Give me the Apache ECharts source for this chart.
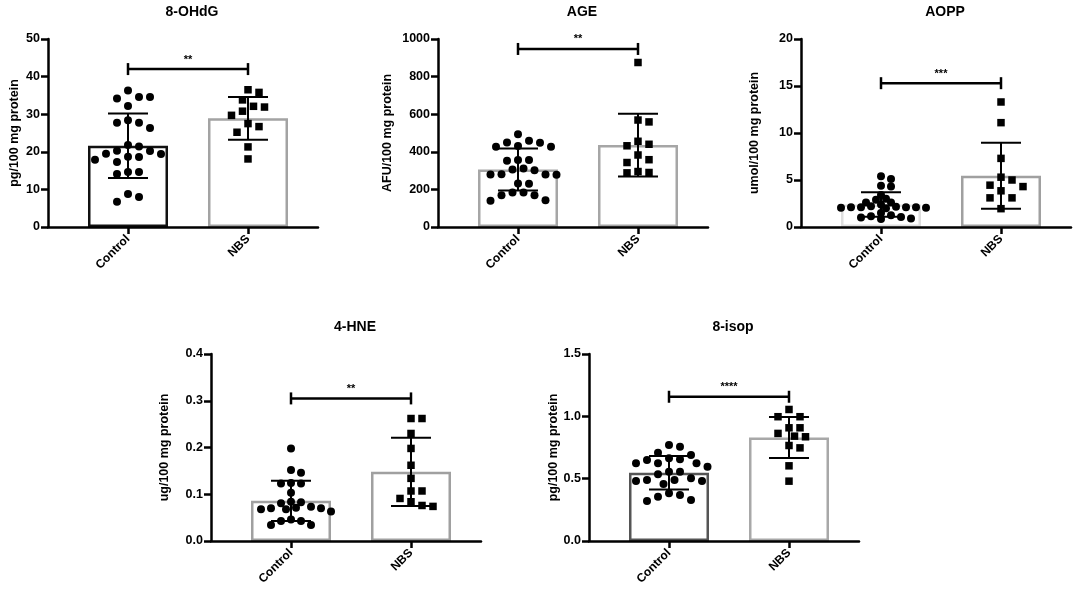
<!DOCTYPE html>
<html>
<head>
	<meta charset="utf-8">
	<script src="https://cdn.jsdelivr.net/npm/echarts@6/dist/echarts.min.js"></script>
	<title>Oxidative stress markers</title>
	<style>
		body { margin: 0; background: #fff; }
	</style>
</head>
<body>
	<div id="main" style="width: 1084px;height:594px;"></div>

	<script type="text/javascript">
	    // group names and per-panel texts
	    var categories = ['Control', 'NBS'];
	    var titles = ['8-OHdG', 'AGE', 'AOPP', '4-HNE', '8-isop'];
	    var yNames = ['pg/100 mg protein', 'AFU/100 mg protein', 'umol/100 mg protein', 'ug/100 mg protein', 'pg/100 mg protein'];
	    var yMax = [50, 1000, 20, 0.4, 1.5];
	    var yStep = [10, 200, 5, 0.1, 0.5];
	    var stars = ['**', '**', '***', '**', '****'];
	    var bracketY = [42, 947, 15.3, 0.305, 1.157];

	    // individual points
	    var ohdgControl = [36.3, 34.6, 34.2, 34.6, 32.2, 28.4, 27.7, 27.7, 26.3, 21.8, 21.4, 20.3, 20.2, 19.5, 19.4, 18.7, 18.6, 17.9, 17.3, 14.6, 14.6, 14.1, 8.8, 8.0, 6.7];
	    var ohdgNbs = [36.5, 35.8, 33.8, 32.1, 31.9, 30.8, 29.7, 27.5, 26.7, 25.2, 21.3, 18.1];
	    var ageControl = [493, 459, 450, 448, 431, 427, 427, 356, 356, 352, 311, 306, 302, 281, 279, 279, 278, 231, 230, 183, 183, 169, 169, 142, 139];
	    var ageNbs = [875, 569, 559, 456, 440, 432, 383, 358, 343, 295, 290, 288];
	    var aoppControl = [5.4, 5.1, 4.4, 4.3, 3.4, 3.0, 2.9, 2.6, 2.6, 2.4, 2.2, 2.15, 2.1, 2.1, 2.1, 2.1, 2.05, 2.05, 2.0, 1.5, 1.25, 1.15, 1.07, 1.0, 0.9, 0.85];
	    var aoppNbs = [13.3, 11.1, 7.3, 5.3, 5.0, 4.45, 4.3, 3.85, 3.1, 3.1, 1.95];
	    var hneControl = [0.198, 0.152, 0.146, 0.124, 0.123, 0.123, 0.103, 0.084, 0.083, 0.081, 0.073, 0.071, 0.070, 0.070, 0.068, 0.068, 0.063, 0.046, 0.043, 0.043, 0.034, 0.034];
	    var hneNbs = [0.262, 0.262, 0.230, 0.198, 0.162, 0.134, 0.107, 0.107, 0.091, 0.084, 0.076, 0.074];
	    var isopControl = [0.770, 0.756, 0.708, 0.690, 0.663, 0.655, 0.650, 0.623, 0.623, 0.623, 0.596, 0.556, 0.556, 0.535, 0.503, 0.489, 0.489, 0.481, 0.481, 0.457, 0.383, 0.369, 0.355, 0.329, 0.321];
	    var isopNbs = [1.055, 0.997, 0.997, 0.908, 0.908, 0.863, 0.841, 0.836, 0.766, 0.747, 0.603, 0.48];

	    // mean and SD per panel: [Control, NBS]
	    var means = [[21.6, 28.9], [306, 436], [2.4, 5.45], [0.086, 0.148], [0.548, 0.83]];
	    var sds = [[8.6, 5.7], [112, 167], [1.3, 3.5], [0.043, 0.073], [0.134, 0.165]];

	    var points = [
	        [ohdgControl, ohdgNbs],
	        [ageControl, ageNbs],
	        [aoppControl, aoppNbs],
	        [hneControl, hneNbs],
	        [isopControl, isopNbs]
	    ];

	    // layout of the five panels (pixels); sw = [step, min distance] of the point swarm per group
	    var layout = [
	        { left: 48, top: 39, h: 188, gap: 27, sw: [[5.5, 10.5], [5.5, 10.5]], edge: ['#111111', '#a3a3a3'] },
	        { left: 438, top: 39, h: 188, gap: 44, sw: [[5.5, 10], [5.5, 10]], edge: ['#a6a6a6', '#a6a6a6'] },
	        { left: 801, top: 39, h: 188, gap: 40, sw: [[5, 6], [5.5, 10.5]], edge: ['#dedede', '#a0a0a0'] },
	        { left: 211, top: 354, h: 187, gap: 40, sw: [[5, 7.5], [5.5, 10]], edge: ['#a0a0a0', '#a0a0a0'] },
	        { left: 589, top: 354, h: 187, gap: 28, sw: [[5.5, 10], [5.5, 10]], edge: ['#555555', '#a8a8a8'] }
	    ];
	    var plotW = 270, unitPx = 120, xMin = -80 / 120, xMax = 190 / 120;
	    var font = 'Liberation Sans, Arial, sans-serif';

	    // simple beeswarm: spread points sideways so markers do not overlap much
	    function swarm(values, pxPerUnit, step, minD) {
	        var placed = [], offs = [];
	        values.forEach(function (v) {
	            var y = v * pxPerUnit;
	            for (var k = 0; k < 60; k++) {
	                var dx = (k % 2 === 1 ? 1 : -1) * Math.ceil(k / 2) * step;
	                var ok = placed.every(function (p) {
	                    var a = p[0] - dx, b = p[1] - y;
	                    return a * a + b * b >= minD * minD;
	                });
	                if (ok) { placed.push([dx, y]); offs.push(dx); return; }
	            }
	            offs.push(0);
	        });
	        return offs;
	    }

	    function errorBars(params, api) {
	        var x = api.value(0), m = api.value(1), s = api.value(2);
	        var t = api.coord([x, m + s]), b = api.coord([x, m - s]);
	        var w = 20, st = { stroke: '#000', lineWidth: 2 };
	        return { type: 'group', children: [
	            { type: 'line', shape: { x1: t[0], y1: t[1], x2: b[0], y2: b[1] }, style: st },
	            { type: 'line', shape: { x1: t[0] - w, y1: t[1], x2: t[0] + w, y2: t[1] }, style: st },
	            { type: 'line', shape: { x1: b[0] - w, y1: b[1], x2: b[0] + w, y2: b[1] }, style: st }
	        ] };
	    }

	    function bracket(panel) {
	        return function (params, api) {
	            var a = api.coord([api.value(0), api.value(2)]);
	            var b = api.coord([api.value(1), api.value(2)]);
	            var st = { stroke: '#000', lineWidth: 2.5 };
	            return { type: 'group', children: [
	                { type: 'line', shape: { x1: a[0], y1: a[1], x2: b[0], y2: b[1] }, style: st },
	                { type: 'line', shape: { x1: a[0], y1: a[1] - 6, x2: a[0], y2: a[1] + 6 }, style: st },
	                { type: 'line', shape: { x1: b[0], y1: b[1] - 6, x2: b[0], y2: b[1] + 6 }, style: st },
	                { type: 'text', x: (a[0] + b[0]) / 2, y: a[1] - 4, style: {
	                    text: stars[panel], fill: '#000', font: 'bold 11px ' + font,
	                    textAlign: 'center', textVerticalAlign: 'bottom' } }
	            ] };
	        };
	    }

	    var option = {
	        backgroundColor: '#fff',
	        animation: false,
	        title: [], grid: [], xAxis: [], yAxis: [], series: []
	    };

	    layout.forEach(function (L, i) {
	        var dec = yStep[i] < 1 ? 1 : 0;
	        option.title.push({
	            text: titles[i], left: L.left + 139, top: L.top - 39, textAlign: 'center',
	            textStyle: { fontFamily: font, fontWeight: 'bold', fontSize: 14, color: '#000' }
	        });
	        option.grid.push({ left: L.left, top: L.top, width: plotW, height: L.h });
	        option.xAxis.push({
	            type: 'value', gridIndex: i, min: xMin, max: xMax, z: 10,
	            splitLine: { show: false },
	            axisLine: { onZero: false, lineStyle: { color: '#000', width: 2.5 } },
	            axisTick: { customValues: [0, 1], length: 7, lineStyle: { color: '#000', width: 2.5 } },
	            axisLabel: {
	                customValues: [0, 1], rotate: 45, margin: 10,
	                fontFamily: font, fontWeight: 'bold', fontSize: 12, color: '#000',
	                formatter: function (v) { return categories[Math.round(v)]; }
	            }
	        });
	        option.yAxis.push({
	            type: 'value', gridIndex: i, min: 0, max: yMax[i], interval: yStep[i], z: 10,
	            name: yNames[i], nameLocation: 'middle', nameGap: L.gap, nameRotate: 90,
	            nameTextStyle: { fontFamily: font, fontWeight: 'bold', fontSize: 12.5, color: '#000' },
	            splitLine: { show: false },
	            axisLine: { show: true, onZero: false, lineStyle: { color: '#000', width: 2.5 } },
	            axisTick: { show: true, length: 7, lineStyle: { color: '#000', width: 2.5 } },
	            axisLabel: {
	                margin: 8, fontFamily: font, fontWeight: 'bold', fontSize: 12.5, color: '#000',
	                formatter: function (v) { return v.toFixed(dec); }
	            }
	        });

	        // bars (group means)
	        option.series.push({
	            type: 'bar', xAxisIndex: i, yAxisIndex: i, barWidth: 80, z: 1,
	            data: means[i].map(function (m, c) {
	                return { value: [c, m], itemStyle: { color: '#fff', borderColor: L.edge[c], borderWidth: 2.5 } };
	            })
	        });

	        // individual points
	        var pxPerUnit = L.h / yMax[i];
	        points[i].forEach(function (vals, c) {
	            var offs = swarm(vals, pxPerUnit, L.sw[c][0], L.sw[c][1]);
	            option.series.push({
	                type: 'scatter', xAxisIndex: i, yAxisIndex: i, z: 3,
	                symbol: c === 0 ? 'circle' : 'rect', symbolSize: c === 0 ? 8 : 7.5,
	                itemStyle: { color: '#000', opacity: 1 },
	                data: vals.map(function (v, k) { return [c + offs[k] / unitPx, v]; })
	            });
	        });

	        // mean +/- SD
	        option.series.push({
	            type: 'custom', xAxisIndex: i, yAxisIndex: i, z: 4, clip: false,
	            renderItem: errorBars, encode: { x: 0, y: 1 },
	            data: means[i].map(function (m, c) { return [c, m, sds[i][c]]; })
	        });

	        // significance bracket
	        option.series.push({
	            type: 'custom', xAxisIndex: i, yAxisIndex: i, z: 4, clip: false,
	            renderItem: bracket(i), encode: { x: [0, 1], y: 2 },
	            data: [[0, 1, bracketY[i]]]
	        });
	    });

	    var myChart = echarts.init(document.getElementById('main'));
	    myChart.setOption(option);
    </script>
</body>
</html>
